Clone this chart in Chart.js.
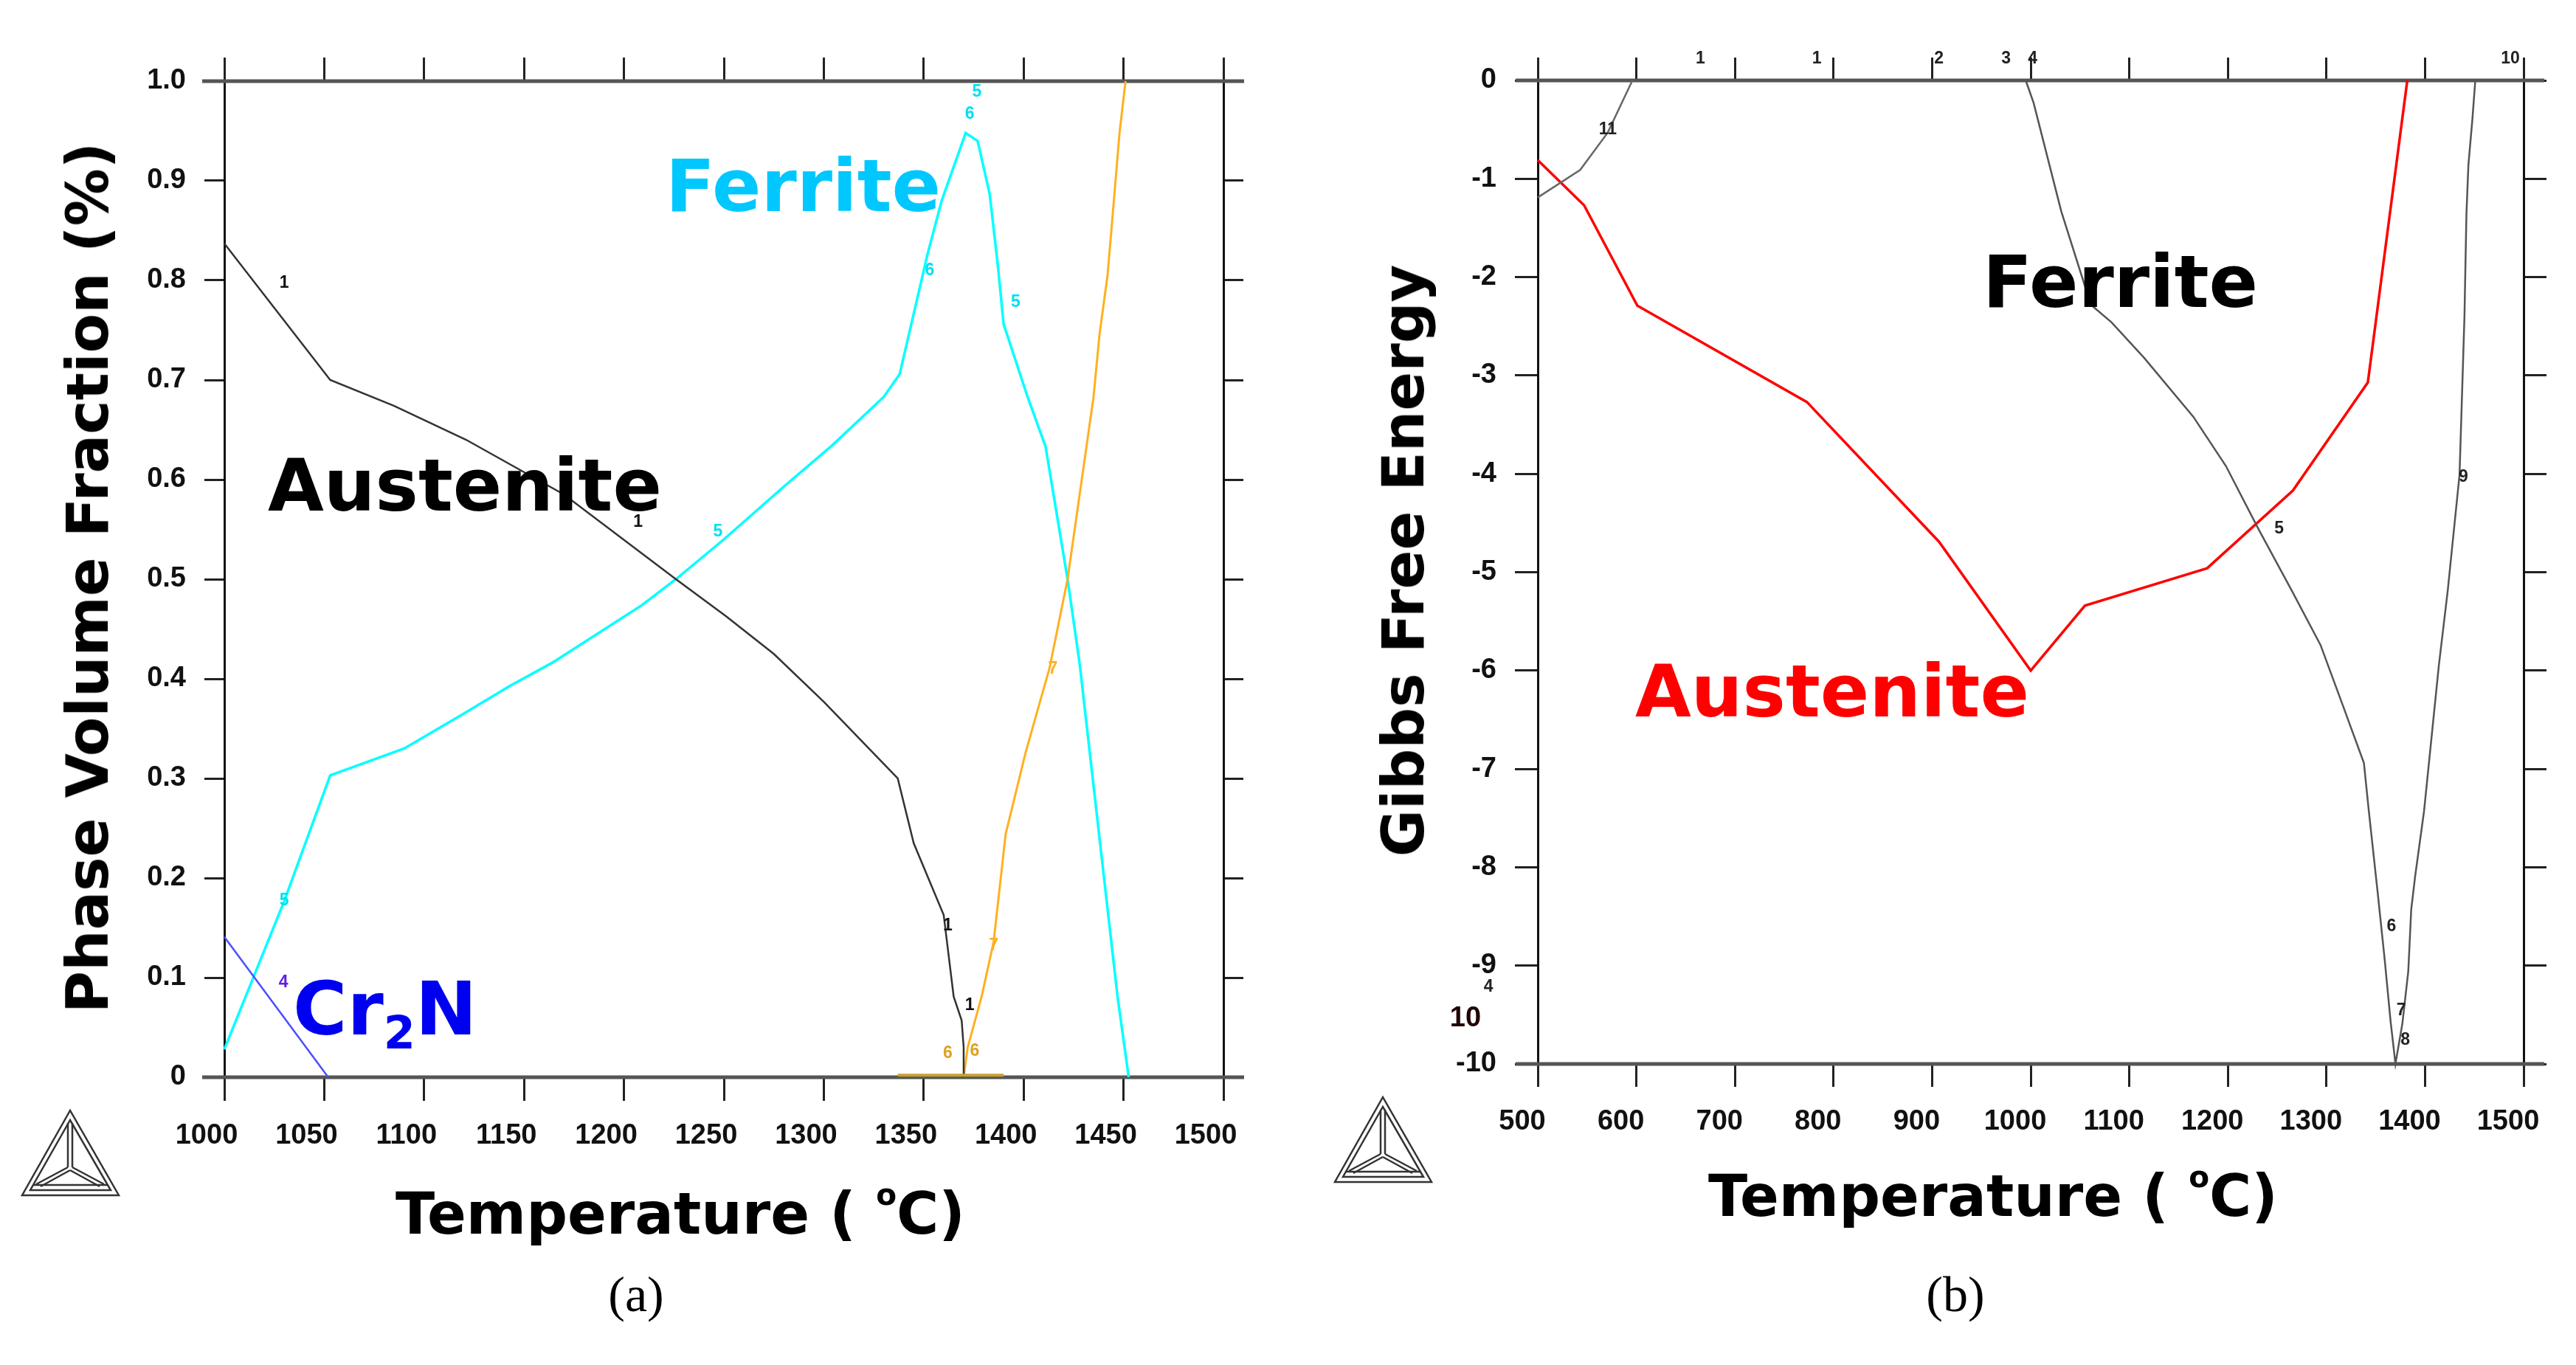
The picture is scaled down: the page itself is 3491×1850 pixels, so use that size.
<!DOCTYPE html>
<html>
<head>
<meta charset="utf-8">
<script src="https://cdn.jsdelivr.net/npm/chart.js"></script>
<style>
  html, body { margin:0; padding:0; background:#fff; }
  #page { position:relative; width:3491px; height:1850px; overflow:hidden; background:#fff; }
  canvas { position:absolute; top:0; }
  .t { position:absolute; white-space:nowrap; line-height:1; font-family:'DejaVu Sans', sans-serif; font-weight:bold; }
  .big { font-size:98px; }
  .axt { font-size:78px; color:#000; }
  .axt sup { font-size:0.52em; vertical-align:0.95em; line-height:0; }
  .rot { transform:translate(-50%,-50%) rotate(-90deg); }
  .cap { position:absolute; font-family:'Liberation Serif', 'Times New Roman', serif; font-size:68px; line-height:1; transform:translateX(-50%); }
  svg.logo { position:absolute; }
</style>
</head>
<body>
<div id="page">
  <canvas id="chartA" width="1745" height="1700" style="left:0;width:1745px;height:1700px"></canvas>
  <canvas id="chartB" width="1746" height="1700" style="left:1745px;width:1746px;height:1700px"></canvas>

  <!-- panel (a) texts -->
  <div class="t axt rot" style="left:119px;top:783px">Phase Volume Fraction (%)</div>
  <div class="t axt" style="left:922px;top:1606px;transform:translateX(-50%)">Temperature ( <sup>o</sup>C)</div>
  <div class="t big" style="left:902px;top:203px;color:#00c8ff">Ferrite</div>
  <div class="t big" style="left:363px;top:609px;color:#000">Austenite</div>
  <div class="t" style="left:397px;top:1318px;font-size:100px;color:#0000f0">Cr<span style="font-size:0.62em;position:relative;top:0.3em">2</span>N</div>
  <div class="cap" style="left:862px;top:1720px">(a)</div>

  <!-- panel (b) texts -->
  <div class="t axt rot" style="left:1902px;top:760px">Gibbs Free Energy</div>
  <div class="t axt" style="left:2701px;top:1582px;transform:translateX(-50%)">Temperature ( <sup>o</sup>C)</div>
  <div class="t big" style="left:2687px;top:333px;color:#000">Ferrite</div>
  <div class="t big" style="left:2216px;top:888px;color:#ff0000">Austenite</div>
  <div class="cap" style="left:2650px;top:1720px">(b)</div>

  <!-- Thermo-Calc style logos -->
  <svg class="logo" style="left:27px;top:1502px" width="138" height="122" viewBox="0 0 138 122">
    <g fill="none" stroke="#333" stroke-width="2.5">
      <path d="M68 3 L3 118 L134 118 Z"/>
      <path d="M68 16 L14 111 L123 111 Z"/>
      <path d="M18 104 L119 104"/>
      <path d="M65 20 L65 80 M71 20 L71 80"/>
      <path d="M65 80 L22 103 M71 80 L114 103 M68 84 L28 106 M68 84 L108 106"/>
    </g>
  </svg>
  <svg class="logo" style="left:1806px;top:1484px" width="138" height="122" viewBox="0 0 138 122">
    <g fill="none" stroke="#333" stroke-width="2.5">
      <path d="M68 3 L3 118 L134 118 Z"/>
      <path d="M68 16 L14 111 L123 111 Z"/>
      <path d="M18 104 L119 104"/>
      <path d="M65 20 L65 80 M71 20 L71 80"/>
      <path d="M65 80 L22 103 M71 80 L114 103 M68 84 L28 106 M68 84 L108 106"/>
    </g>
  </svg>
</div>

<script>
// ---- (a) phase volume fraction ----
const tempTicksA = [1000, 1050, 1100, 1150, 1200, 1250, 1300, 1350, 1400, 1450, 1500];
const fracTicksA = [0, 0.1, 0.2, 0.3, 0.4, 0.5, 0.6, 0.7, 0.8, 0.9, 1.0];
const fracLabelsA = ['0', '0.1', '0.2', '0.3', '0.4', '0.5', '0.6', '0.7', '0.8', '0.9', '1.0'];

const austeniteT = [1000, 1053, 1085, 1121, 1170, 1226, 1251, 1275, 1300, 1337, 1345, 1360, 1365, 1369, 1370, 1370];
const austeniteV = [0.837, 0.700, 0.674, 0.640, 0.585, 0.500, 0.463, 0.425, 0.377, 0.300, 0.235, 0.163, 0.081, 0.057, 0.030, 0.0];

const ferriteT = [1000, 1030, 1053, 1090, 1119, 1143, 1164, 1209, 1226, 1250, 1280, 1304, 1330, 1338, 1352, 1359, 1371, 1377, 1383, 1387, 1390, 1402, 1411, 1422, 1428, 1447, 1452.6];
const ferriteV = [0.028, 0.177, 0.303, 0.330, 0.364, 0.393, 0.416, 0.474, 0.500, 0.540, 0.593, 0.634, 0.683, 0.706, 0.827, 0.880, 0.948, 0.940, 0.887, 0.817, 0.756, 0.683, 0.633, 0.500, 0.416, 0.081, 0.0];

const liquidT = [1370, 1372, 1379, 1385, 1391, 1401, 1413, 1422, 1435, 1438, 1442, 1445, 1448, 1451];
const liquidV = [0.0, 0.030, 0.081, 0.136, 0.244, 0.326, 0.411, 0.500, 0.683, 0.746, 0.805, 0.876, 0.948, 1.0];

const baseT = [1337, 1390];
const baseV = [0.002, 0.002];

const cr2nT = [1000, 1052];
const cr2nV = [0.141, 0.0];

// small curve numbers: [temperature, value, text, colour]
const tagsA = [
  [1030, 0.797, '1', '#111'], [1207, 0.557, '1', '#111'], [1362, 0.152, '1', '#111'], [1373, 0.072, '1', '#111'],
  [1247, 0.548, '5', '#00e0f0'], [1030, 0.177, '5', '#00e0f0'], [1353, 0.810, '6', '#00e0f0'],
  [1396, 0.778, '5', '#00e0f0'], [1376.6, 0.989, '5', '#00e0f0'], [1373, 0.967, '6', '#00e0f0'],
  [1029.6, 0.095, '4', '#6020e0'],
  [1362, 0.024, '6', '#e0a020'], [1375.5, 0.026, '6', '#e0a020'], [1385, 0.132, '7', '#ffb020'], [1414.7, 0.410, '7', '#ffb020']
];

// ---- (b) Gibbs free energy ----
const tempTicksB = [500, 600, 700, 800, 900, 1000, 1100, 1200, 1300, 1400, 1500];
const energyTicksB = [-10, -9, -8, -7, -6, -5, -4, -3, -2, -1, 0];
const energyLabelsB = ['-10', '-9', '-8', '-7', '-6', '-5', '-4', '-3', '-2', '-1', '0'];

const gAusT = [500, 547, 601, 773, 907, 1000, 1055, 1179, 1266, 1342, 1382];
const gAusV = [-0.81, -1.27, -2.29, -3.27, -4.69, -6.0, -5.34, -4.96, -4.17, -3.07, 0.0];

const gFerT = [995, 1003, 1031, 1061, 1082, 1115, 1165, 1198, 1231, 1265, 1294, 1315, 1338, 1343, 1352, 1359, 1365, 1370, 1377, 1383, 1386, 1390, 1399, 1414, 1423, 1435, 1440, 1442, 1444, 1448, 1451];
const gFerV = [0.0, -0.23, -1.33, -2.28, -2.46, -2.82, -3.42, -3.92, -4.56, -5.19, -5.74, -6.31, -6.94, -7.43, -8.26, -8.93, -9.56, -10.0, -9.59, -9.06, -8.43, -8.09, -7.43, -5.95, -5.19, -4.01, -2.40, -1.36, -0.86, -0.40, 0.0];

const gOtherT = [500, 543, 571, 596];
const gOtherV = [-1.19, -0.91, -0.53, 0.0];

const tagsB = [
  [571, -0.5, '11', '#222'], [665, 0.22, '1', '#222'], [783, 0.22, '1', '#222'], [907, 0.22, '2', '#222'],
  [975, 0.22, '3', '#222'], [1002, 0.22, '4', '#222'], [1486.5, 0.22, '10', '#222'],
  [1252, -4.56, '5', '#222'], [1439, -4.03, '9', '#222'], [1366, -8.6, '6', '#222'],
  [1375.8, -9.46, '7', '#222'], [1380, -9.76, '8', '#222'], [450, -9.22, '4', '#222'], [426.6, -9.54, '10', '#200']
];

const tickFamily = "'Liberation Sans Narrow', 'Liberation Sans', Arial, sans-serif";

function pts(xs, ys) {
  return xs.map(function(x, i){ return { x: x, y: ys[i] }; });
}

// thick grey horizontal frame lines that run a little past the plot box
const framePlugin = {
  id: 'frame',
  beforeDatasetsDraw(chart) {
    const a = chart.chartArea, ctx = chart.ctx;
    ctx.save();
    ctx.strokeStyle = '#555';
    ctx.lineWidth = 5;
    ctx.beginPath();
    ctx.moveTo(a.left - 30, a.top); ctx.lineTo(a.right + 28, a.top);
    ctx.moveTo(a.left - 30, a.bottom); ctx.lineTo(a.right + 28, a.bottom);
    ctx.stroke();
    ctx.restore();
  }
};

// curve numbers as in the Thermo-Calc output
const tagPlugin = {
  id: 'tags',
  afterDatasetsDraw(chart, args, opts) {
    const ctx = chart.ctx, sx = chart.scales.x, sy = chart.scales.y;
    ctx.save();
    ctx.textAlign = 'center';
    ctx.textBaseline = 'middle';
    (opts.items || []).forEach(function(it){
      ctx.font = 'bold ' + (it[2] === '10' && it[1] < 0 ? 38 : 23) + 'px ' + tickFamily;
      ctx.fillStyle = it[3];
      ctx.fillText(it[2], sx.getPixelForValue(it[0]), sy.getPixelForValue(it[1]));
    });
    ctx.restore();
  }
};

function makeScales(c) {
  const font = { family: tickFamily, size: 38, weight: 'bold' };
  const tickGrid = function(len) {
    return { drawOnChartArea: false, drawTicks: true, tickLength: len, tickColor: '#222', tickWidth: 3 };
  };
  return {
    x: {
      type: 'linear', position: 'bottom', min: c.xTicks[0], max: c.xTicks[c.xTicks.length - 1],
      afterBuildTicks: function(s){ s.ticks = c.xTicks.map(function(v){ return { value: v }; }); },
      grid: tickGrid(c.xTick), border: { display: false },
      ticks: { font: font, color: '#111', padding: 25, labelOffset: c.xShift, maxRotation: 0, autoSkip: false,
               callback: function(v){ return String(v); } },
      afterFit: function(s){ s.height = c.bottom; }
    },
    x2: {
      type: 'linear', position: 'top', min: c.xTicks[0], max: c.xTicks[c.xTicks.length - 1],
      afterBuildTicks: function(s){ s.ticks = c.xTicks.map(function(v){ return { value: v }; }); },
      grid: tickGrid(c.xTick), border: { display: false },
      ticks: { display: false },
      afterFit: function(s){ s.height = c.top; }
    },
    y: {
      type: 'linear', position: 'left', min: c.yTicks[0], max: c.yTicks[c.yTicks.length - 1],
      afterBuildTicks: function(s){ s.ticks = c.yTicks.map(function(v){ return { value: v }; }); },
      grid: tickGrid(c.yTick), border: { display: true, color: '#111', width: 3 },
      ticks: { font: font, color: '#111', padding: 25, autoSkip: false,
               callback: function(v, i){ return c.yLabels[i]; } },
      afterFit: function(s){ s.width = c.left; }
    },
    y2: {
      type: 'linear', position: 'right', min: c.yTicks[0], max: c.yTicks[c.yTicks.length - 1],
      afterBuildTicks: function(s){ s.ticks = c.yTicks.map(function(v){ return { value: v }; }); },
      grid: tickGrid(c.yTick), border: { display: true, color: '#111', width: 3 },
      ticks: { display: false },
      afterFit: function(s){ s.width = c.right; }
    }
  };
}

function line(data, color, width) {
  return { data: data, borderColor: color, borderWidth: width, pointRadius: 0, fill: false, tension: 0, clip: false };
}

new Chart(document.getElementById('chartA'), {
  type: 'line',
  data: { datasets: [
    line(pts(baseT, baseV), '#c8a030', 4),
    line(pts(cr2nT, cr2nV), '#4d4dff', 2.5),
    line(pts(austeniteT, austeniteV), '#333', 2.5),
    line(pts(liquidT, liquidV), '#ffb020', 3),
    line(pts(ferriteT, ferriteV), '#00ffff', 3.5)
  ] },
  options: {
    responsive: false, animation: false, devicePixelRatio: 1,
    layout: { padding: 0 },
    plugins: { legend: { display: false }, tooltip: { enabled: false }, tags: { items: tagsA } },
    scales: makeScales({ xTicks: tempTicksA, yTicks: fracTicksA, yLabels: fracLabelsA,
                         xTick: 32, yTick: 27, xShift: -24, left: 304, right: 87, top: 110, bottom: 240 })
  },
  plugins: [framePlugin, tagPlugin]
});

new Chart(document.getElementById('chartB'), {
  type: 'line',
  data: { datasets: [
    line(pts(gOtherT, gOtherV), '#666', 2.5),
    line(pts(gFerT, gFerV), '#555', 2.5),
    line(pts(gAusT, gAusV), '#ff0000', 3.5)
  ] },
  options: {
    responsive: false, animation: false, devicePixelRatio: 1,
    layout: { padding: 0 },
    plugins: { legend: { display: false }, tooltip: { enabled: false }, tags: { items: tagsB } },
    scales: makeScales({ xTicks: tempTicksB, yTicks: energyTicksB, yLabels: energyLabelsB,
                         xTick: 31, yTick: 31, xShift: -21, left: 339, right: 71, top: 109, bottom: 258 })
  },
  plugins: [framePlugin, tagPlugin]
});
</script>
</body>
</html>
